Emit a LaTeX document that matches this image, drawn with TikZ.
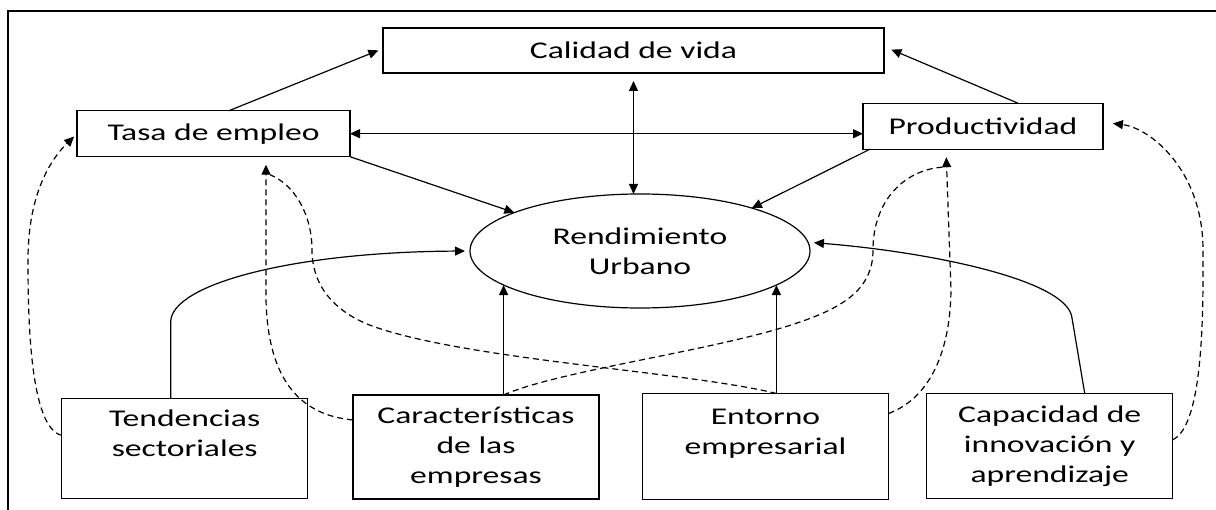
\documentclass[tikz,border=0pt]{standalone}
\usepackage{fontspec}
\setmainfont{Carlito}[FakeStretch=1.4]
\usetikzlibrary{arrows.meta, shapes.geometric}

\begin{document}
\begin{tikzpicture}[x=1pt, y=-1pt, line width=1.2pt, >={Triangle[length=10pt, width=9pt]},
        caja/.style={draw, rectangle, inner sep=0pt, outer sep=0pt, align=center, font=\fontsize{24pt}{30pt}\selectfont},
        punteada/.style={dash pattern=on 6pt off 4pt}]
        \useasboundingbox (0,0) rectangle (1216,510);
        \draw[line width=2pt] (8,510) -- (8,11) -- (1216,11);
        \node[caja, minimum width=501pt, minimum height=45pt] (calidad) at (633.5,50.5) {Calidad de vida};
        \node[caja, minimum width=273pt, minimum height=46pt] (tasa) at (213.5,133.7) {Tasa de empleo};
        \node[caja, minimum width=240pt, minimum height=46pt] (prod) at (983,126.2) {Productividad};
        \node[caja, ellipse, minimum width=340pt, minimum height=114pt] (rend) at (640,251) {Rendimiento\\Urbano};
        \node[caja, minimum width=246pt, minimum height=100pt] (tend) at (184.7,448.3) {Tendencias\\sectoriales\\\mbox{}};
        \node[caja, minimum width=246pt, minimum height=104pt] (caract) at (476,447) {Características\\de las\\empresas};
        \node[caja, minimum width=246pt, minimum height=106pt] (entorno) at (765.5,446.5) {Entorno\\empresarial\\\mbox{}};
        \node[caja, minimum width=246pt, minimum height=105pt] (capac) at (1049.7,445.8) {Capacidad de\\innovación y\\aprendizaje};
        \draw[->, shorten >=5pt] ([xshift=15.5pt]tasa.north) -- ([yshift=2pt]calidad.west);
        \draw[->, shorten >=8pt] ([xshift=35pt]prod.north) -- ([yshift=4pt]calidad.east);
        \draw[<->, shorten <=8pt] (calidad.south) -- (calidad.south |- rend.north);
        \draw[<->] (tasa.east) -- (tasa.east -| prod.west);
        \draw[->] (tasa.south east) -- (rend.163);
        \draw[->] ([xshift=7pt]prod.south west) -- (rend.21);
        \draw[->] (rend.194 |- caract.north) -- (rend.194);
        \draw[->] (rend.346 |- entorno.north) -- (rend.346);
        \draw[->, shorten >=5pt] ([xshift=-14pt]tend.north) -- (170.7,322) .. controls (170.7,285) and (290,252) .. (rend.west);
        \draw[->, shorten >=6pt] ([xshift=35pt]capac.north) -- (1072,318) .. controls (1068,280) and (930,252) .. (rend.3);
        \draw[punteada, ->, shorten >=4pt] ([yshift=13pt]tend.west) .. controls (30,428) and (28,320) .. (28,260)
            .. controls (28,195) and (50,160) .. (tasa.west);
        \draw[punteada, ->, shorten >=8pt] ([yshift=27pt]caract.west) .. controls (300,415) and (268,380) .. (266,300)
            -- ([xshift=52.5pt]tasa.south);
        \draw[punteada] (rend.346 |- entorno.north) .. controls (690,372) and (470,360) .. (375,327)
            .. controls (340,315) and (312,290) .. (312,250) .. controls (312,215) and (295,185) .. ([xshift=56.5pt, yshift=-18pt]tasa.south);
        \draw[punteada, ->, shorten >=8pt] ([yshift=33pt]entorno.east) .. controls (925,400) and (950,360) .. (951,290)
            -- ([xshift=-37pt]prod.south);
        \draw[punteada] (rend.194 |- caract.north) .. controls (560,370) and (720,350) .. (800,322)
            .. controls (850,305) and (873,285) .. (873,250) .. controls (873,200) and (905,170) .. ([xshift=-41pt, yshift=-18pt]prod.south);
        \draw[punteada, ->, shorten >=10pt] ([yshift=6pt]capac.east) .. controls (1205,425) and (1203,300) .. (1203,250)
            .. controls (1203,170) and (1150,128) .. ([yshift=4pt]prod.east);
    \end{tikzpicture}
\end{document}
